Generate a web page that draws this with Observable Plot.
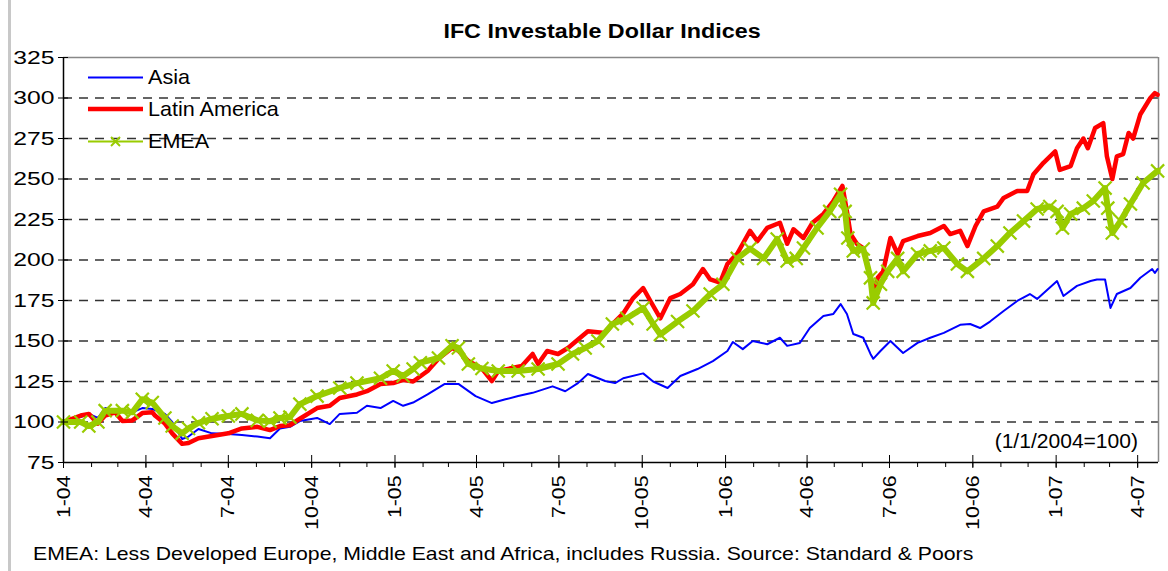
<!DOCTYPE html>
<html><head><meta charset="utf-8">
<script src="https://cdn.jsdelivr.net/npm/d3@7"></script>
<script src="https://cdn.jsdelivr.net/npm/@observablehq/plot@0.6"></script>
<style>
body{margin:0;background:#fff;font-family:"Liberation Sans",Arial,sans-serif;}
#wrap{position:relative;width:1168px;height:571px;overflow:hidden;background:#fff;}
#wrap svg{position:absolute;left:0;top:0;}
#edge{position:absolute;left:8px;top:0;width:3px;height:571px;background:#c8c8c8;}
</style></head><body><div id="wrap"><div id="edge"></div></div>
<script>
const titleText = "IFC Investable Dollar Indices";
const captionText = "EMEA: Less Developed Europe, Middle East and Africa, includes Russia. Source: Standard & Poors";
const noteText = "(1/1/2004=100)";
const seriesNames = ["Asia", "Latin America", "EMEA"];
const seriesColors = ["#0000ff", "#ff0000", "#99cc00"];
const yTicks = [75, 100, 125, 150, 175, 200, 225, 250, 275, 300, 325];
const xTickDates = ["2004-01-01","2004-04-01","2004-07-01","2004-10-01","2005-01-01","2005-04-01","2005-07-01","2005-10-01","2006-01-01","2006-04-01","2006-07-01","2006-10-01","2007-01-01","2007-04-01"];
const xTickLabels = ["1-04","4-04","7-04","10-04","1-05","4-05","7-05","10-05","1-06","4-06","7-06","10-06","1-07","4-07"];

const asiaDates = ["2004-01-01","2004-01-20","2004-01-29","2004-02-08","2004-02-16","2004-02-27","2004-03-06","2004-03-17","2004-03-28","2004-04-08","2004-04-22","2004-04-30","2004-05-11","2004-05-18","2004-05-29","2004-06-13","2004-07-01","2004-07-16","2004-08-02","2004-08-16","2004-08-27","2004-09-07","2004-09-18","2004-10-07","2004-10-21","2004-11-01","2004-11-20","2004-12-01","2004-12-16","2004-12-30","2005-01-10","2005-01-21","2005-02-06","2005-02-25","2005-03-12","2005-03-31","2005-04-18","2005-05-03","2005-05-17","2005-06-02","2005-06-24","2005-07-08","2005-07-22","2005-08-02","2005-08-21","2005-09-01","2005-09-10","2005-10-02","2005-10-13","2005-10-29","2005-11-12","2005-12-01","2005-12-18","2006-01-03","2006-01-09","2006-01-20","2006-01-31","2006-02-16","2006-03-02","2006-03-10","2006-03-24","2006-04-04","2006-04-19","2006-04-30","2006-05-08","2006-05-15","2006-05-22","2006-06-02","2006-06-10","2006-06-13","2006-06-21","2006-07-02","2006-07-16","2006-08-01","2006-08-15","2006-08-30","2006-09-17","2006-09-28","2006-10-09","2006-10-20","2006-11-04","2006-11-19","2006-12-03","2006-12-11","2007-01-02","2007-01-09","2007-01-24","2007-02-08","2007-02-15","2007-02-24","2007-03-02","2007-03-09","2007-03-24","2007-04-04","2007-04-17","2007-04-20","2007-04-23"];
const asiaValues = [100,103,105,102.5,108.6,107,108,106,108.6,108,105,100,89.5,91,95.7,93,92.6,92,91,90,96,97,100.6,102.5,98.7,105,105.7,110,108.6,113,110,112,117,123.5,123.5,116,111.7,114,116,118,122,119,124,129.6,125.3,124,127,130,125,121,128.4,132.7,137.6,143.8,149.4,145,150,148,152,147,148.8,158,165.4,166.7,172.8,166.7,154.3,152,142,139,143.8,150,142.6,148.8,152,155,160,160.5,158,162,168.5,174.7,179,176,187,177.8,184,187,188,188,170.4,179,182.7,189,194.4,192,194.4];

const latamDates = ["2004-01-01","2004-01-20","2004-01-29","2004-02-08","2004-02-16","2004-02-27","2004-03-06","2004-03-17","2004-03-28","2004-04-08","2004-04-11","2004-04-22","2004-04-30","2004-05-11","2004-05-18","2004-05-29","2004-06-13","2004-07-01","2004-07-16","2004-08-02","2004-08-16","2004-08-27","2004-09-07","2004-09-18","2004-10-07","2004-10-21","2004-11-01","2004-11-20","2004-12-01","2004-12-16","2004-12-30","2005-01-10","2005-01-21","2005-02-06","2005-02-18","2005-03-05","2005-03-12","2005-03-23","2005-04-07","2005-04-18","2005-04-25","2005-05-21","2005-06-02","2005-06-08","2005-06-18","2005-06-30","2005-07-11","2005-08-02","2005-08-21","2005-09-01","2005-09-10","2005-09-21","2005-10-02","2005-10-10","2005-10-21","2005-11-01","2005-11-12","2005-11-26","2005-12-07","2005-12-15","2005-12-26","2006-01-03","2006-01-14","2006-01-28","2006-02-05","2006-02-16","2006-03-02","2006-03-10","2006-03-17","2006-03-28","2006-04-07","2006-04-19","2006-04-30","2006-05-10","2006-05-15","2006-05-19","2006-05-26","2006-06-02","2006-06-10","2006-06-13","2006-06-18","2006-06-24","2006-07-02","2006-07-10","2006-07-16","2006-08-01","2006-08-15","2006-08-30","2006-09-06","2006-09-17","2006-09-25","2006-10-04","2006-10-13","2006-10-28","2006-11-04","2006-11-19","2006-11-30","2006-12-07","2006-12-18","2006-12-31","2007-01-05","2007-01-17","2007-01-24","2007-01-31","2007-02-05","2007-02-13","2007-02-22","2007-02-26","2007-03-04","2007-03-09","2007-03-16","2007-03-22","2007-03-27","2007-04-04","2007-04-15","2007-04-20","2007-04-23"];
const latamValues = [100,104,105,99,104,106,100.6,101,105.5,106,104,99,93,86.5,87,90,91.4,93,96,97,95,97.5,98,102,108.6,110,114.8,117,119,123.5,124,126,125,131.5,139,145.7,144,137.6,133,125.3,131.5,134.6,142,135.8,143.8,142,145.7,156,155,162,167,176.5,182.7,174.7,164,176.5,179,185,194.4,188,186,197.5,204,218,211.7,219.8,223,210,219,213.6,223,228.4,236.4,245.7,230,216,210,207.4,189,176.5,189,193,213.6,203.7,211.7,214.8,216.7,221,216,218,208.6,221,230,233,238.3,242.6,242.6,253,260,267,255.6,258,269,275,269,281.5,284.5,264,250,264,265.4,278.4,275,290,300,303,302];

const emeaDates = ["2004-01-01","2004-01-20","2004-01-29","2004-02-08","2004-02-16","2004-03-06","2004-03-17","2004-03-28","2004-04-08","2004-04-22","2004-04-30","2004-05-11","2004-05-18","2004-05-29","2004-06-13","2004-07-01","2004-07-16","2004-08-02","2004-08-16","2004-08-27","2004-09-07","2004-09-18","2004-10-07","2004-11-01","2004-11-20","2004-12-16","2004-12-30","2005-01-10","2005-01-21","2005-01-29","2005-02-18","2005-03-05","2005-03-12","2005-03-23","2005-04-07","2005-04-25","2005-05-17","2005-06-08","2005-06-30","2005-07-16","2005-07-30","2005-08-13","2005-08-29","2005-09-14","2005-10-02","2005-10-13","2005-10-21","2005-11-09","2005-11-26","2005-12-15","2005-12-29","2006-01-14","2006-01-28","2006-02-12","2006-02-27","2006-03-10","2006-03-20","2006-03-28","2006-04-12","2006-04-26","2006-05-08","2006-05-13","2006-05-16","2006-05-22","2006-06-02","2006-06-10","2006-06-13","2006-06-21","2006-06-29","2006-07-10","2006-07-16","2006-08-01","2006-08-15","2006-08-30","2006-09-14","2006-09-25","2006-10-13","2006-10-28","2006-11-11","2006-11-26","2006-12-11","2006-12-25","2007-01-02","2007-01-08","2007-01-17","2007-01-31","2007-02-11","2007-02-24","2007-02-27","2007-03-04","2007-03-13","2007-03-24","2007-04-07","2007-04-23"];
const emeaValues = [100,100,97.5,100,107,107,106,114,112,102.5,97.5,93,96,99.5,102,103.7,105,101,100.5,102.5,103,111,116,121,124,127,131.5,128.4,132.7,136.6,139.5,147,145.7,135.8,133,131.5,131.5,132.7,135.8,142,145.7,150,160.5,164,170.4,160.5,154,162,168.5,179,185,201,207,201,213,199.4,201,207.4,219.8,230,240.6,230,213.6,205.6,206.8,189,173.5,185,193,201,193,203.7,205.6,207.4,197.5,193,201,208.6,216.7,224,231.5,233,230,219.8,228.4,232,236.4,244.4,232,216.7,224,234.6,247.5,255];

const parse = d3.utcParse("%Y-%m-%d");
const rows = (name, dates, values) => dates.map((d, i) => ({series: name, date: parse(d), value: values[i]}));
const asia = rows(seriesNames[0], asiaDates, asiaValues);
const latam = rows(seriesNames[1], latamDates, latamValues);
const emea = rows(seriesNames[2], emeaDates, emeaValues);
const xStart = parse("2004-01-01"), xEnd = parse("2007-04-24");
const quarterTicks = xTickDates.map(parse);
const monthTicks = d3.utcMonth.range(xStart, xEnd);
const font = '"Liberation Sans", Arial, sans-serif';

const chart = Plot.plot({
  width: 1168, height: 571,
  marginLeft: 63, marginRight: 10, marginTop: 57, marginBottom: 109,
  x: {type: "utc", domain: [xStart, xEnd]},
  y: {domain: [75, 325]},
  style: {fontFamily: font, fontSize: "18px", color: "#000", background: "transparent", overflow: "visible"},
  marks: [
    Plot.gridY(yTicks.filter(v => v > 75 && v < 325), {stroke: "#333", strokeOpacity: 1, strokeWidth: 1.3, strokeDasharray: "9,7"}),
    Plot.ruleY([325], {stroke: "#888", strokeWidth: 1.5}),
    Plot.ruleX([xEnd], {stroke: "#888", strokeWidth: 1.5}),
    Plot.line(asia, {x: "date", y: "value", stroke: seriesColors[0], strokeWidth: 2}),
    Plot.line(latam, {x: "date", y: "value", stroke: seriesColors[1], strokeWidth: 4.5}),
    Plot.line(emea, {x: "date", y: "value", stroke: seriesColors[2], strokeWidth: 6}),
    Plot.dot(emea, {x: "date", y: "value", symbol: "times", r: 6, stroke: seriesColors[2], strokeWidth: 2.2}),
    Plot.ruleX([xStart], {stroke: "#000", strokeWidth: 1.5}),
    Plot.ruleY([75], {stroke: "#000", strokeWidth: 1.5}),
    Plot.axisY({ticks: yTicks, tickSize: 10, dx: 5, tickPadding: 4, label: null, fontSize: 19, stroke: "#000"}),
    Plot.axisX({ticks: quarterTicks, tickSize: 13, dy: -7, tickPadding: 7, tickRotate: -90, label: null, fontSize: 19,
      tickFormat: (d) => xTickLabels[quarterTicks.findIndex(t => +t === +d)]}),
    Plot.axisX({ticks: monthTicks, tickSize: 5, tickFormat: () => "", label: null})
  ]
});
document.getElementById("wrap").appendChild(chart);
// widen glyphs along text direction to match the reference's rendering
chart.querySelectorAll("g[aria-label='x-axis tick label'] text").forEach(t => {
  t.setAttribute("transform", (t.getAttribute("transform") || "") + " scale(1.12,1)");
});
chart.querySelectorAll("g[aria-label='y-axis tick label'] text").forEach(t => {
  t.setAttribute("transform", (t.getAttribute("transform") || "") + " scale(1.3,1)");
});

// overlay: title, legend, note, caption
const ns = "http://www.w3.org/2000/svg";
const ov = document.createElementNS(ns, "svg");
ov.setAttribute("width", 1168); ov.setAttribute("height", 571);
ov.style.fontFamily = font;
document.getElementById("wrap").appendChild(ov);
function txt(s, x, y, size, opts = {}) {
  const t = document.createElementNS(ns, "text");
  t.textContent = s;
  t.setAttribute("transform", `translate(${x},${y}) scale(${opts.sx || 1.1},1)`);
  t.setAttribute("font-size", size);
  if (opts.bold) t.setAttribute("font-weight", "bold");
  if (opts.anchor) t.setAttribute("text-anchor", opts.anchor);
  t.setAttribute("fill", "#000");
  ov.appendChild(t);
}
function ln(x1, y1, x2, y2, color, w) {
  const l = document.createElementNS(ns, "line");
  l.setAttribute("x1", x1); l.setAttribute("y1", y1); l.setAttribute("x2", x2); l.setAttribute("y2", y2);
  l.setAttribute("stroke", color); l.setAttribute("stroke-width", w);
  ov.appendChild(l);
}
txt(titleText, 602, 38, 21, {bold: true, anchor: "middle", sx: 1.11});
const legendY = [77.5, 109, 141.5];
const legendW = [2, 4.5, 2];
seriesNames.forEach((name, i) => {
  ln(88, legendY[i], 143, legendY[i], seriesColors[i], legendW[i]);
  txt(name, 148, legendY[i] + 6.5, 20, {sx: 1.08});
});
{
  const cx = 115.5, cy = legendY[2], r = 4.5;
  ln(cx - r, cy - r, cx + r, cy + r, seriesColors[2], 2);
  ln(cx - r, cy + r, cx + r, cy - r, seriesColors[2], 2);
}
txt(noteText, 1138, 448, 19.5, {anchor: "end", sx: 1.08});
txt(captionText, 33, 560, 18, {sx: 1.18});
</script></body></html>
